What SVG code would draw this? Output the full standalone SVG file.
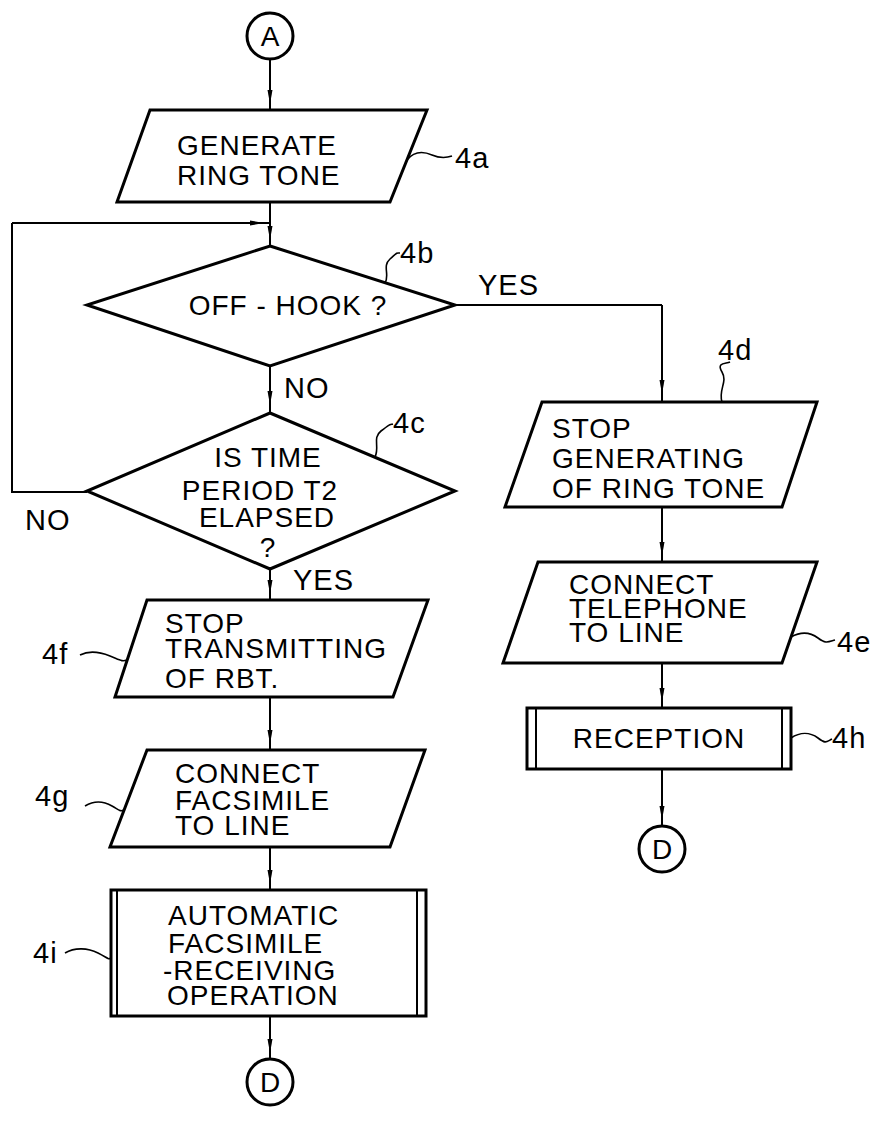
<svg xmlns="http://www.w3.org/2000/svg" width="875" height="1147" viewBox="0 0 875 1147">
<style>
.shape{fill:#fff;stroke:#000;stroke-width:3;stroke-linejoin:miter}
.thin{fill:none;stroke:#000;stroke-width:2}
.conn{fill:none;stroke:#000;stroke-width:2}
.lead{fill:none;stroke:#000;stroke-width:1.6}
text{font-family:"Liberation Sans",Arial,sans-serif;font-size:28px;fill:#000;letter-spacing:1px}
.c{text-anchor:middle}
.lbl{font-size:29px}
</style>
<defs>
<marker id="ah" markerWidth="14" markerHeight="8" refX="14" refY="4" orient="auto" markerUnits="userSpaceOnUse">
<path d="M0,1.5 L14,4 L0,6.5 z" fill="#000"/>
</marker>
</defs>
<g id="connectors">
<path class="conn" d="M270 59 V104 V110" marker-mid="url(#ah)"/>
<path class="conn" d="M270 202 V240 V246" marker-mid="url(#ah)"/>
<path class="conn" d="M87 492 H12 V223"/>
<path class="conn" d="M12 223 H264 H270" marker-mid="url(#ah)"/>
<path class="conn" d="M455 305 H662"/>
<path class="conn" d="M662 305 V394 V402" marker-mid="url(#ah)"/>
<path class="conn" d="M270 366 V405 V413" marker-mid="url(#ah)"/>
<path class="conn" d="M270 569 V594 V600" marker-mid="url(#ah)"/>
<path class="conn" d="M270 697 V744 V750" marker-mid="url(#ah)"/>
<path class="conn" d="M270 847 V884 V890" marker-mid="url(#ah)"/>
<path class="conn" d="M270 1016 V1053 V1059" marker-mid="url(#ah)"/>
<path class="conn" d="M662 507 V556 V562" marker-mid="url(#ah)"/>
<path class="conn" d="M662 663 V702 V708" marker-mid="url(#ah)"/>
<path class="conn" d="M662 769 V820 V826" marker-mid="url(#ah)"/>
<text x="478" y="295" class="lbl">YES</text>
<text x="284" y="398" class="lbl">NO</text>
<text x="293" y="590" class="lbl">YES</text>
<text x="25" y="530" class="lbl">NO</text>
</g>
<g id="nodeA">
<circle class="shape" cx="270" cy="36" r="23" stroke-width="2.5"/>
<text x="270" y="46" class="c" style="letter-spacing:0">A</text>
</g>
<g id="n4a">
<polygon class="shape" points="150,110 427,110 390,202 117,202"/>
<text x="177" y="155">GENERATE</text>
<text x="177" y="185">RING  TONE</text>
<path class="lead" d="M407 160 C415 150,425 152,432 155 S446 158,452 156"/>
<text x="455" y="168" class="lbl">4a</text>
</g>
<g id="n4b">
<polygon class="shape" points="270,246 455,305 270,366 87,305"/>
<text x="288" y="315" class="c">OFF - HOOK ?</text>
<path class="lead" d="M385 283 C390 275,382 266,390 259 S396 253,400 253"/>
<text x="400" y="263" class="lbl">4b</text>
</g>
<g id="n4c">
<polygon class="shape" points="270,413 455,491 270,569 87,491"/>
<text x="268" y="467" class="c">IS TIME</text>
<text x="260" y="500" class="c">PERIOD  T2</text>
<text x="267" y="527" class="c">ELAPSED</text>
<text x="268" y="557" class="c">?</text>
<path class="lead" d="M375 457 C380 447,372 438,381 431 S389 425,393 424"/>
<text x="393" y="433" class="lbl">4c</text>
</g>
<g id="n4d">
<polygon class="shape" points="542,402 817,402 782,507 505,507"/>
<text x="552" y="438">STOP</text>
<text x="552" y="468">GENERATING</text>
<text x="552" y="498">OF RING TONE</text>
<path class="lead" d="M722 402 C718 390,728 382,722 372 S726 364,730 362"/>
<text x="718" y="360" class="lbl">4d</text>
</g>
<g id="n4e">
<polygon class="shape" points="538,562 817,562 782,663 503,663"/>
<text x="569" y="594">CONNECT</text>
<text x="569" y="618">TELEPHONE</text>
<text x="569" y="642">TO  LINE</text>
<path class="lead" d="M791 637 C800 632,810 632,818 638 S828 642,835 640"/>
<text x="837" y="652" class="lbl">4e</text>
</g>
<g id="n4h">
<rect class="shape" x="527" y="708" width="264" height="61"/>
<line class="thin" x1="536" y1="708" x2="536" y2="769"/>
<line class="thin" x1="782" y1="708" x2="782" y2="769"/>
<text x="659" y="748" class="c">RECEPTION</text>
<path class="lead" d="M791 738 C800 732,810 732,818 738 S826 742,832 739"/>
<text x="832" y="748" class="lbl">4h</text>
</g>
<g id="nodeD1">
<circle class="shape" cx="662" cy="849" r="23" stroke-width="2.5"/>
<text x="662" y="859" class="c" style="letter-spacing:0">D</text>
</g>
<g id="n4f">
<polygon class="shape" points="147,600 428,600 393,697 115,697"/>
<text x="165" y="633">STOP</text>
<text x="165" y="658">TRANSMITTING</text>
<text x="165" y="688">OF  RBT.</text>
<path class="lead" d="M80 655 C90 650,100 652,110 656 S122 662,127 660"/>
<text x="42" y="664" class="lbl">4f</text>
</g>
<g id="n4g">
<polygon class="shape" points="147,750 425,750 390,847 110,847"/>
<text x="175" y="783">CONNECT</text>
<text x="175" y="810">FACSIMILE</text>
<text x="175" y="835">TO  LINE</text>
<path class="lead" d="M85 806 C95 800,105 802,112 806 S120 812,124 810"/>
<text x="35" y="806" class="lbl">4g</text>
</g>
<g id="n4i">
<rect class="shape" x="111" y="890" width="315" height="126"/>
<line class="thin" x1="117" y1="890" x2="117" y2="1016"/>
<line class="thin" x1="417" y1="890" x2="417" y2="1016"/>
<text x="168" y="925">AUTOMATIC</text>
<text x="168" y="953">FACSIMILE</text>
<text x="163" y="980">-RECEIVING</text>
<text x="167" y="1005">OPERATION</text>
<path class="lead" d="M65 953 C75 947,88 948,98 953 S108 960,111 958"/>
<text x="33" y="963" class="lbl">4i</text>
</g>
<g id="nodeD2">
<circle class="shape" cx="270" cy="1082" r="23" stroke-width="2.5"/>
<text x="270" y="1092" class="c" style="letter-spacing:0">D</text>
</g>
</svg>
